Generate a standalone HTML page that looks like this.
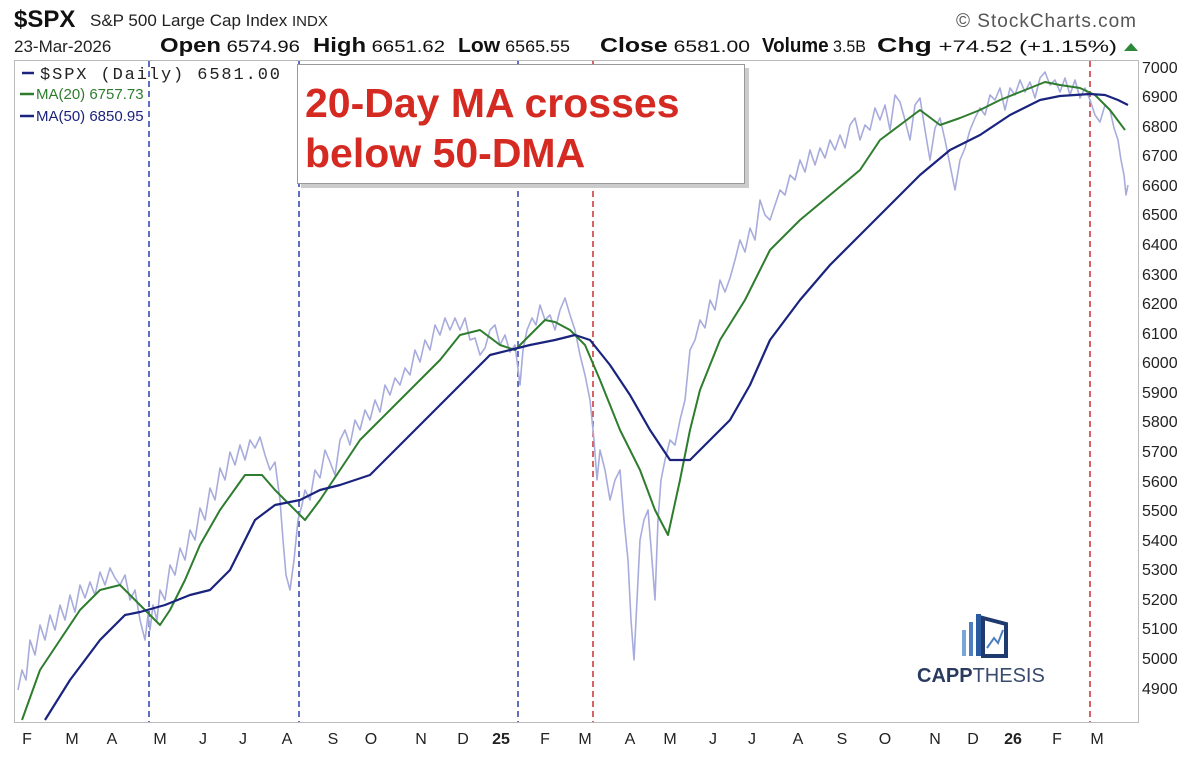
<!DOCTYPE html>
<html><head><meta charset="utf-8"><style>
body{margin:0;background:#fff;width:1204px;height:762px;overflow:hidden;font-family:"Liberation Sans",sans-serif}
</style></head><body>
<svg width="1204" height="762" xmlns="http://www.w3.org/2000/svg" font-family="Liberation Sans, sans-serif">
<text x="14" y="27" font-size="24" font-weight="bold" fill="#111">$SPX</text>
<text x="90" y="26" font-size="17" fill="#222">S&amp;P 500 Large Cap Index</text>
<text x="292" y="26" font-size="15" fill="#222">INDX</text>
<text x="956" y="27" font-size="19" fill="#555" textLength="180">© StockCharts.com</text>
<text x="14" y="52" font-size="17" fill="#222">23-Mar-2026</text>
<g font-size="17" fill="#111">
<text x="160" y="52" textLength="140" lengthAdjust="spacingAndGlyphs"><tspan font-weight="bold" font-size="20">Open</tspan> 6574.96</text>
<text x="313" y="52" textLength="132" lengthAdjust="spacingAndGlyphs"><tspan font-weight="bold" font-size="20">High</tspan> 6651.62</text>
<text x="458" y="52" textLength="112" lengthAdjust="spacingAndGlyphs"><tspan font-weight="bold" font-size="20">Low</tspan> 6565.55</text>
<text x="600" y="52" textLength="150" lengthAdjust="spacingAndGlyphs"><tspan font-weight="bold" font-size="20">Close</tspan> 6581.00</text>
<text x="762" y="52" textLength="104" lengthAdjust="spacingAndGlyphs"><tspan font-weight="bold" font-size="20">Volume</tspan> 3.5B</text>
<text x="877" y="52" textLength="240" lengthAdjust="spacingAndGlyphs"><tspan font-weight="bold" font-size="20">Chg</tspan> +74.52 (+1.15%)</text>
</g>
<polygon points="1124,51 1138,51 1131,43" fill="#2a8a3a"/>
<rect x="14.5" y="60.5" width="1124" height="662" fill="none" stroke="#bbb"/>
<g font-size="16" fill="#222">
<text x="1142" y="73">7000</text><text x="1142" y="102">6900</text><text x="1142" y="132">6800</text><text x="1142" y="161">6700</text><text x="1142" y="191">6600</text><text x="1142" y="220">6500</text><text x="1142" y="250">6400</text><text x="1142" y="280">6300</text><text x="1142" y="309">6200</text><text x="1142" y="339">6100</text><text x="1142" y="368">6000</text><text x="1142" y="398">5900</text><text x="1142" y="427">5800</text><text x="1142" y="457">5700</text><text x="1142" y="487">5600</text><text x="1142" y="516">5500</text><text x="1142" y="546">5400</text><text x="1142" y="575">5300</text><text x="1142" y="605">5200</text><text x="1142" y="634">5100</text><text x="1142" y="664">5000</text><text x="1142" y="694">4900</text>
</g>
<g font-size="16" fill="#222" text-anchor="middle">
<text x="27" y="744">F</text><text x="72" y="744">M</text><text x="112" y="744">A</text><text x="160" y="744">M</text><text x="203" y="744">J</text><text x="243" y="744">J</text><text x="287" y="744">A</text><text x="333" y="744">S</text><text x="371" y="744">O</text><text x="421" y="744">N</text><text x="463" y="744">D</text><text x="501" y="744" font-weight="bold">25</text><text x="545" y="744">F</text><text x="585" y="744">M</text><text x="630" y="744">A</text><text x="670" y="744">M</text><text x="713" y="744">J</text><text x="752" y="744">J</text><text x="798" y="744">A</text><text x="842" y="744">S</text><text x="885" y="744">O</text><text x="935" y="744">N</text><text x="973" y="744">D</text><text x="1013" y="744" font-weight="bold">26</text><text x="1057" y="744">F</text><text x="1097" y="744">M</text>
</g>
<g stroke-dasharray="6,4" stroke-width="1.5">
<line x1="149" y1="61" x2="149" y2="722" stroke="#2a3fa8"/>
<line x1="299" y1="61" x2="299" y2="722" stroke="#2a3fa8"/>
<line x1="518" y1="61" x2="518" y2="722" stroke="#2a3fa8"/>
<line x1="593" y1="61" x2="593" y2="722" stroke="#c83030"/>
<line x1="1090" y1="61" x2="1090" y2="722" stroke="#c83030"/>
</g>
<g fill="none" stroke-linejoin="round">
<polyline stroke="#a8acdc" stroke-width="1.6" points="18,690 22,670 26,680 30,640 35,655 40,625 45,640 50,615 55,630 60,605 65,620 70,595 75,612 80,585 85,598 90,582 95,595 100,572 105,585 110,568 115,578 120,585 125,575 130,600 135,590 140,620 145,640 148,615 150,630 153,605 157,620 160,590 165,600 170,565 175,575 180,548 185,560 190,530 195,540 200,508 205,520 210,488 215,500 220,468 225,480 230,452 235,465 240,445 245,460 250,440 255,448 260,437 265,455 270,470 275,462 280,500 283,540 286,575 290,590 294,560 298,520 302,505 305,490 310,500 315,470 320,478 325,450 330,462 335,475 340,440 345,430 350,445 355,420 360,430 365,410 370,420 375,400 380,412 385,385 390,395 395,378 400,385 405,368 410,375 415,350 420,362 425,340 430,350 435,325 440,335 445,318 450,330 455,318 460,330 465,318 470,340 475,338 480,355 485,348 490,330 495,325 500,345 505,335 510,352 515,345 520,385 523,350 527,330 532,318 536,325 540,305 545,320 550,315 555,330 560,310 565,298 570,315 575,330 580,355 585,375 590,400 594,440 597,480 600,450 605,470 610,500 615,480 620,470 624,520 628,560 631,620 634,660 637,600 640,540 644,520 648,510 652,560 655,600 658,520 661,480 665,460 670,440 675,445 680,420 685,400 690,350 695,340 700,320 705,328 710,300 715,310 720,280 725,292 730,278 735,260 740,240 745,252 750,228 755,240 760,200 765,215 770,220 775,205 780,190 785,195 790,175 795,180 800,160 805,172 810,150 815,165 820,148 825,158 830,140 835,150 840,135 845,148 850,125 855,118 860,140 865,125 870,130 875,108 880,120 885,105 890,130 895,95 900,102 905,120 910,140 915,105 920,98 925,130 930,160 935,128 940,118 945,140 950,165 955,190 960,160 965,148 970,130 975,118 980,108 985,115 990,95 995,100 1000,88 1005,110 1010,88 1015,95 1020,80 1025,92 1030,82 1035,98 1040,78 1045,72 1050,85 1055,80 1060,92 1065,78 1070,95 1075,80 1080,98 1085,88 1090,100 1095,115 1100,122 1105,105 1110,110 1114,128 1118,140 1121,160 1124,175 1126,195 1128,185"/>
<polyline stroke="#2e7d2e" stroke-width="2" points="22,720 40,670 60,640 80,610 100,590 120,585 130,595 150,615 160,625 170,610 185,580 200,545 220,510 245,475 262,475 275,490 290,505 305,520 320,500 340,470 360,440 380,420 400,400 420,380 440,360 460,335 480,330 500,345 515,350 530,335 545,320 555,322 570,330 585,345 600,380 620,430 640,470 655,510 668,535 680,480 690,430 700,390 720,340 745,300 770,250 800,220 830,195 860,170 880,140 900,125 920,110 940,125 960,118 980,110 1000,100 1020,92 1045,82 1060,85 1080,88 1095,95 1110,110 1125,130"/>
<polyline stroke="#1a237e" stroke-width="2.2" points="45,720 70,680 100,640 125,615 140,612 165,605 190,595 210,590 230,570 255,520 275,505 300,500 320,490 340,485 370,475 400,445 430,415 460,385 490,355 510,350 530,345 555,340 575,335 590,340 610,365 630,395 650,430 670,460 690,460 710,440 730,420 750,385 770,340 800,300 830,265 860,235 890,205 920,175 950,150 980,135 1010,115 1040,100 1060,96 1090,94 1105,95 1118,100 1128,105"/>
</g>
<g font-size="16">
<line x1="22" y1="73" x2="34" y2="73" stroke="#1a237e" stroke-width="2.5"/><text x="40" y="79" fill="#222" font-size="17" textLength="240" font-family="Liberation Mono, monospace">$SPX (Daily) 6581.00</text>
<line x1="20" y1="94" x2="34" y2="94" stroke="#2e7d2e" stroke-width="2.5"/><text x="36" y="99" fill="#2e7d2e" font-size="15">MA(20) 6757.73</text>
<line x1="20" y1="116" x2="34" y2="116" stroke="#1a237e" stroke-width="2.5"/><text x="36" y="121" fill="#1a237e" font-size="15">MA(50) 6850.95</text>
</g>
<rect x="301" y="68" width="448" height="120" fill="#ccc"/>
<rect x="297.5" y="64.5" width="447" height="119" fill="#fff" stroke="#999"/>
<text x="305" y="117" font-size="41" font-weight="bold" fill="#d42a22">20-Day MA crosses</text>
<text x="305" y="167" font-size="41" font-weight="bold" fill="#d42a22">below 50-DMA</text>
<g>
<rect x="962" y="630" width="4" height="26" fill="#7aa6d8"/>
<rect x="969" y="622" width="4" height="34" fill="#4d7fc0"/>
<rect x="976" y="614" width="5" height="42" fill="#2a5aa0"/>
<path d="M983 618 L1006 624 L1006 656 L983 656 Z" fill="none" stroke="#1e3a6e" stroke-width="4"/>
<path d="M987 648 L994 638 L998 643 L1003 630" fill="none" stroke="#4d7fc0" stroke-width="2"/>
<text x="917" y="682" font-size="20" font-weight="bold" fill="#2a3a5e">CAPP<tspan font-weight="normal" fill="#3a4a6e">THESIS</tspan></text>
</g>
</svg>
</body></html>
